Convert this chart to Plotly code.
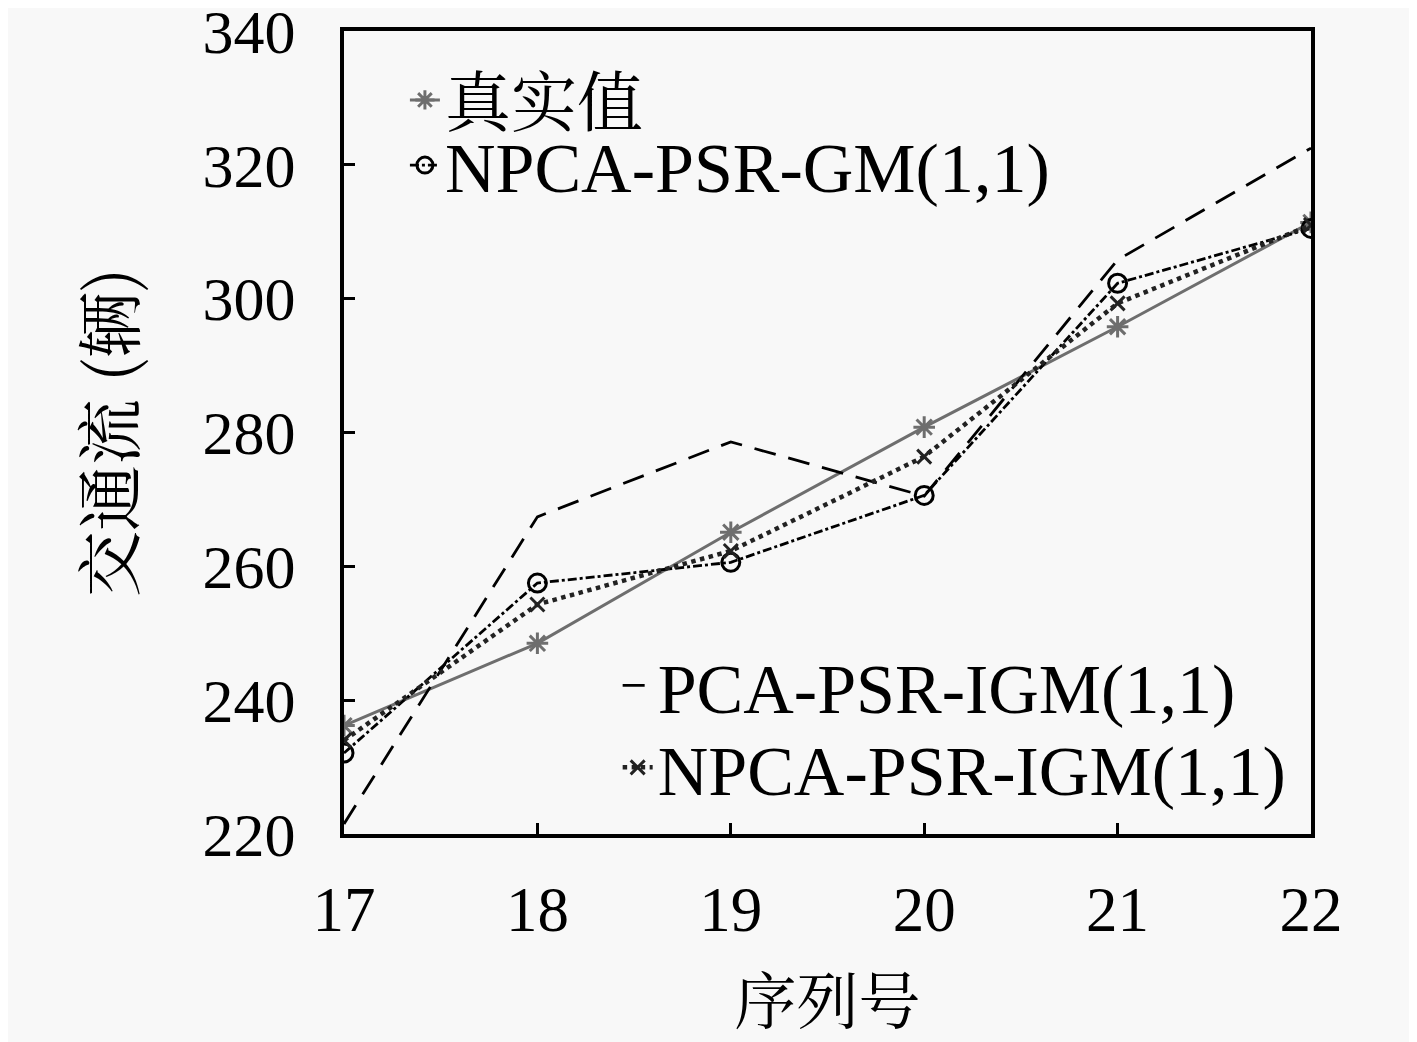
import plotly.graph_objects as go

# 序列号
seq = [17, 18, 19, 20, 21, 22]

# 交通流 (辆)
real_values = [236.2, 248.5, 265.1, 280.8, 295.8, 311.4]
npca_psr_gm = [232.1, 257.5, 260.6, 270.6, 302.3, 310.5]
pca_psr_igm = [221.5, 267.4, 278.6, 270.5, 305.8, 322.5]
npca_psr_igm = [234.0, 254.3, 262.3, 276.4, 299.3, 311.0]

y_ticks = [220, 240, 260, 280, 300, 320, 340]

FONT = "Liberation Serif, Noto Serif CJK SC, Noto Sans CJK SC"
CJK_FONT = "Noto Serif CJK SC, Noto Sans CJK SC"
BG = "#f8f8f8"

fig = go.Figure()

fig.add_trace(go.Scatter(
    x=seq, y=real_values, name="真实值", mode="lines+markers",
    line=dict(color="#6e6e6e", width=3),
    marker=dict(symbol="asterisk-open", size=18, line=dict(color="#6e6e6e", width=3)),
    legend="legend"))
fig.add_trace(go.Scatter(
    x=seq, y=npca_psr_gm, name="NPCA-PSR-GM(1,1)", mode="lines+markers",
    line=dict(color="black", width=2.8, dash="dashdot"),
    marker=dict(symbol="circle-open", size=18, color="black", line=dict(color="black", width=3)),
    legend="legend2"))
fig.add_trace(go.Scatter(
    x=seq, y=pca_psr_igm, name="PCA-PSR-IGM(1,1)", mode="lines",
    line=dict(color="black", width=2.8, dash="22px,13px"),
    legend="legend3"))
fig.add_trace(go.Scatter(
    x=seq, y=npca_psr_igm, name="NPCA-PSR-IGM(1,1)", mode="lines+markers",
    line=dict(color="#222222", width=4.5, dash="dot"),
    marker=dict(symbol="x-thin-open", size=14, line=dict(color="#222222", width=3)),
    legend="legend4"))


def one_legend(x, y, size):
    # one entry per legend so each row can be placed like the original
    return dict(x=x, y=y, xanchor="left", yanchor="middle",
                bgcolor="rgba(0,0,0,0)", font=dict(family=FONT, size=size),
                itemwidth=30)


# page body adds an 8px margin, so the figure is shrunk by that amount
fig.update_layout(
    width=1409, height=1034,
    margin=dict(l=336, r=106, t=23, b=208),
    paper_bgcolor=BG, plot_bgcolor=BG,
    font=dict(family=FONT, size=60, color="black"),
    showlegend=True,
    legend=one_legend(0.063, 0.914, 66),
    legend2=one_legend(0.063, 0.833, 70),
    legend3=one_legend(0.283, 0.185, 70),
    legend4=one_legend(0.283, 0.083, 70),
)

fig.update_xaxes(
    range=[17, 22], tickvals=seq, ticks="inside", ticklen=11, tickwidth=3,
    tickcolor="black", showline=True, linecolor="black", linewidth=4, mirror=True,
    showgrid=False, zeroline=False, tickfont=dict(family=FONT, size=63),
    ticklabelstandoff=17, ticklabeloverflow="allow", automargin=False,
    title=dict(text="序列号", font=dict(family=CJK_FONT, size=62), standoff=62),
)
fig.update_yaxes(
    range=[220, 340], tickvals=y_ticks, ticks="inside", ticklen=11, tickwidth=3,
    tickcolor="black", showline=True, linecolor="black", linewidth=4, mirror=True,
    showgrid=False, zeroline=False, tickfont=dict(family=FONT, size=62),
    ticklabelstandoff=32, ticklabeloverflow="allow", automargin=False,
    title=dict(text="交通流 (辆)", font=dict(family=CJK_FONT, size=66), standoff=47),
)

fig.write_html("out.html")
